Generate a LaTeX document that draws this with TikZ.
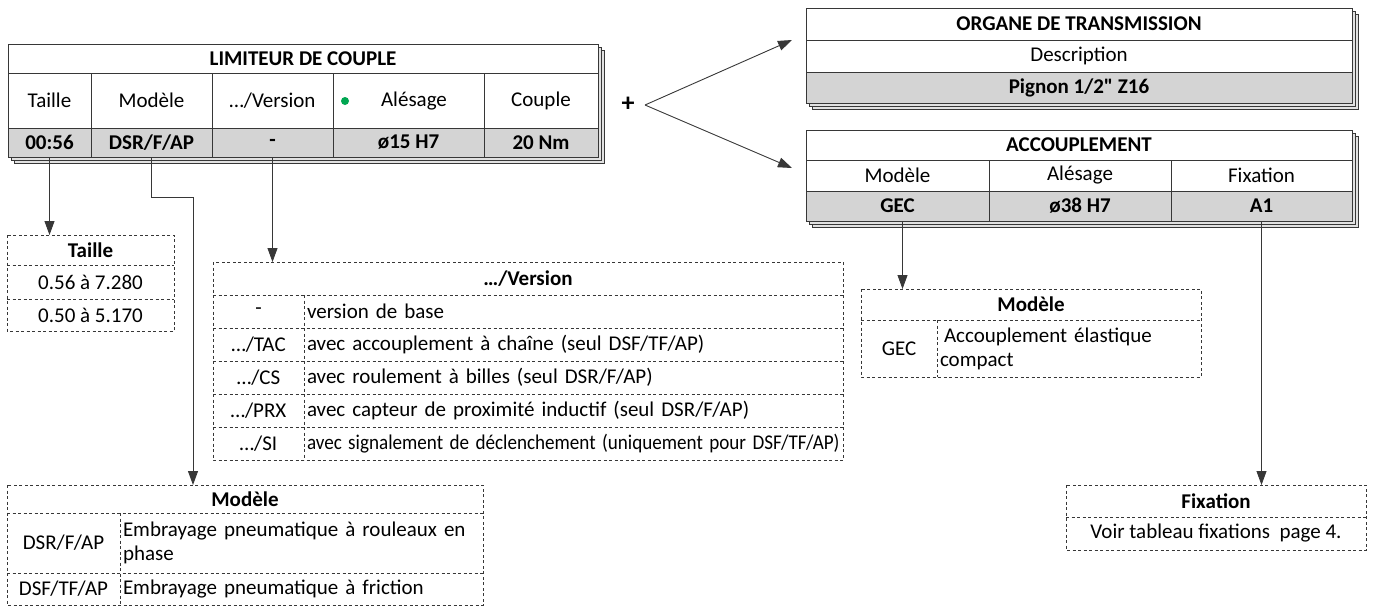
\documentclass[tikz,border=0pt]{standalone}
\usepackage{fontspec}
\setmainfont{Carlito}
\usetikzlibrary{arrows.meta,calc}
\definecolor{cellgray}{RGB}{212,212,212}
\definecolor{dotgreen}{RGB}{0,166,81}
\definecolor{lin}{RGB}{55,55,55}
\newcommand\mycell[7]{\node[#6,minimum width={(#4-#2)*1pt},minimum height={(#5-#3)*1pt}] (#1) at ({(#2+#4)/2},{(#3+#5)/2}) {#7};}
\newcommand\straightquote{{\XeTeXglyph\the\XeTeXcharglyph"0022\relax}}
\tikzset{
  x=1pt,y=-1pt,
  cellbase/.style={draw=lin, line width=0.9pt, inner sep=0pt, outer sep=0pt, font=\fontsize{21}{24}\selectfont},
  hdr/.style={cellbase, font=\fontsize{21}{24}\selectfont\bfseries},
  val/.style={cellbase, fill=cellgray, font=\fontsize{21}{24}\selectfont\bfseries},
  dcell/.style={inner sep=0pt, outer sep=0pt, font=\fontsize{21}{24}\selectfont},
  dhdr/.style={dcell, font=\fontsize{21}{24}\selectfont\bfseries},
  dline/.style={draw=lin, line width=0.75pt, dash pattern=on 3pt off 2.5pt},
  conn/.style={draw=lin, line width=0.9pt, -{Triangle[width=10pt,length=14pt]}},
  sheet/.style={draw=lin, fill=cellgray!70, line width=0.8pt},
}
\begin{document}
\begin{tikzpicture}
\useasboundingbox (0,0) rectangle (1376,608);
% ---------- LIMITEUR DE COUPLE ----------
\draw[sheet] (14,50) rectangle (604,163);
\draw[sheet] (11,47) rectangle (601,160);
\mycell{mt}{8}{44}{598}{73}{hdr,fill=white}{LIMITEUR DE COUPLE}
\mycell{l1}{8}{73}{91}{128}{cellbase,fill=white}{Taille}
\mycell{l2}{91}{73}{212}{128}{cellbase,fill=white}{Modèle}
\mycell{l3}{212}{73}{333}{128}{cellbase,fill=white}{…/Version}
\mycell{l4}{333}{73}{484}{128}{cellbase,fill=white}{}
\mycell{l5}{484}{73}{598}{128}{cellbase,fill=white}{Couple}
\node[circle,fill=dotgreen,inner sep=0pt,minimum size=8pt] (dot) at (345,101) {};
\node[font=\fontsize{21}{24}\selectfont,inner sep=0pt] (alesage) at (414,101) {Alésage};
\mycell{v1}{8}{128}{91}{157}{val}{00:56}
\mycell{v2}{91}{128}{212}{157}{val}{DSR/F/AP}
\mycell{v3}{212}{128}{333}{157}{val}{-}
\mycell{v4}{333}{128}{484}{157}{val}{ø15 H7}
\mycell{v5}{484}{128}{598}{157}{val}{20 Nm}
% ---------- plus and arrows ----------
\node[font=\fontsize{26}{26}\selectfont\bfseries,inner sep=0pt] (plus) at (628,104) {+};
\coordinate (apex) at (645,105);
\coordinate (tipO) at (792,40);
\coordinate (tipA) at (792,168);
\draw[conn] (apex) -- (tipO);
\draw[conn] (apex) -- (tipA);
% ---------- ORGANE DE TRANSMISSION ----------
\draw[sheet] (812,14) rectangle (1358,109);
\draw[sheet] (809,11) rectangle (1355,106);
\mycell{ot}{806}{8}{1352}{40}{hdr,fill=white}{ORGANE DE TRANSMISSION}
\mycell{od}{806}{40}{1352}{72}{cellbase,fill=white}{Description}
\mycell{ov}{806}{72}{1352}{103}{val}{Pignon 1/2\straightquote{} Z16}
% ---------- ACCOUPLEMENT ----------
\draw[sheet] (812,136) rectangle (1358,227);
\draw[sheet] (809,133) rectangle (1355,224);
\mycell{at}{806}{130}{1352}{160}{hdr,fill=white}{ACCOUPLEMENT}
\mycell{al1}{806}{160}{989}{191}{cellbase,fill=white}{Modèle}
\mycell{al2}{989}{160}{1171}{191}{cellbase,fill=white}{Alésage}
\mycell{al3}{1171}{160}{1352}{191}{cellbase,fill=white}{Fixation}
\mycell{av1}{806}{191}{989}{221}{val}{GEC}
\mycell{av2}{989}{191}{1171}{221}{val}{ø38 H7}
\mycell{av3}{1171}{191}{1352}{221}{val}{A1}
% ---------- Taille box ----------
\mycell{tb1}{7}{235}{174}{265}{dhdr}{Taille}
\mycell{tb2}{7}{265}{174}{299}{dcell}{0.56 à 7.280}
\mycell{tb3}{7}{299}{174}{331}{dcell}{0.50 à 5.170}
\draw[dline] (tb1.north west) rectangle (tb3.south east);
\draw[dline] (tb1.south west) -- (tb1.south east);
\draw[dline] (tb2.south west) -- (tb2.south east);
% ---------- Version box ----------
\mycell{vb1}{213}{262}{843}{295}{dhdr}{…/Version}
\mycell{vk1}{213}{295}{304}{328}{dcell}{-}
\mycell{vd1}{304}{295}{843}{328}{dcell,align=left,text width=533pt}{version de base}
\mycell{vk2}{213}{328}{304}{361}{dcell}{…/TAC}
\mycell{vd2}{304}{328}{843}{361}{dcell,align=left,text width=533pt}{avec accouplement à chaîne (seul DSF/TF/AP)}
\mycell{vk3}{213}{361}{304}{394}{dcell}{…/CS}
\mycell{vd3}{304}{361}{843}{394}{dcell,align=left,text width=533pt}{avec roulement à billes (seul DSR/F/AP)}
\mycell{vk4}{213}{394}{304}{427}{dcell}{…/PRX}
\mycell{vd4}{304}{394}{843}{427}{dcell,align=left,text width=533pt}{avec capteur de proximité inductif (seul DSR/F/AP)}
\mycell{vk5}{213}{427}{304}{460}{dcell}{…/SI}
\mycell{vd5}{304}{427}{843}{460}{dcell,align=left,text width=533pt}{\scalebox{0.91}[1]{avec signalement de déclenchement (uniquement pour DSF/TF/AP)}}
\draw[dline] (vb1.north west) rectangle (vd5.south east);
\draw[dline] (vb1.south west) -- (vb1.south east);
\draw[dline] (vk1.south west) -- (vd1.south east);
\draw[dline] (vk2.south west) -- (vd2.south east);
\draw[dline] (vk3.south west) -- (vd3.south east);
\draw[dline] (vk4.south west) -- (vd4.south east);
\draw[dline] (vk1.north east) -- (vk5.south east);
% ---------- Modele box (bottom left) ----------
\mycell{mb1}{7}{485}{483}{513}{dhdr}{Modèle}
\mycell{mk1}{7}{513}{120}{573}{dcell}{DSR/F/AP}
\mycell{md1}{120}{513}{483}{573}{dcell,align=left,text width=357pt}{Embrayage pneumatique à rouleaux en\\phase}
\mycell{mk2}{7}{573}{120}{605}{dcell}{DSF/TF/AP}
\mycell{md2}{120}{573}{483}{605}{dcell,align=left,text width=357pt}{Embrayage pneumatique à friction}
\draw[dline] (mb1.north west) rectangle (md2.south east);
\draw[dline] (mb1.south west) -- (mb1.south east);
\draw[dline] (mk1.south west) -- (md1.south east);
\draw[dline] (mk1.north east) -- (mk2.south east);
% ---------- Modele box (GEC) ----------
\mycell{gb1}{861}{289}{1201}{320}{dhdr}{Modèle}
\mycell{gk1}{861}{320}{937}{377}{dcell}{GEC}
\mycell{gd1}{937}{320}{1201}{377}{dcell,align=left,text width=258pt}{\hspace*{4pt}Accouplement élastique\\compact}
\draw[dline] (gb1.north west) rectangle (gd1.south east);
\draw[dline] (gb1.south west) -- (gb1.south east);
\draw[dline] (gk1.north east) -- (gk1.south east);
% ---------- Fixation box ----------
\mycell{fb1}{1066}{485}{1366}{517}{dhdr}{Fixation}
\mycell{fb2}{1066}{517}{1366}{550}{dcell}{Voir tableau fixations\ \ page 4.}
\draw[dline] (fb1.north west) rectangle (fb2.south east);
\draw[dline] (fb1.south west) -- (fb1.south east);
% ---------- connectors ----------
\coordinate (bendM) at (193,197);
\draw[conn] (v1.south) -- (v1.south |- tb1.north);
\draw[conn] (v2.south) |- (bendM) -- (bendM |- mb1.north);
\draw[conn] (v3.south) -- (v3.south |- vb1.north);
\draw[conn] ([xshift=5pt]av1.south) -- ([xshift=5pt]av1.south |- gb1.north);
\draw[conn] (av3.south) -- (av3.south |- fb1.north);
\end{tikzpicture}
\end{document}
